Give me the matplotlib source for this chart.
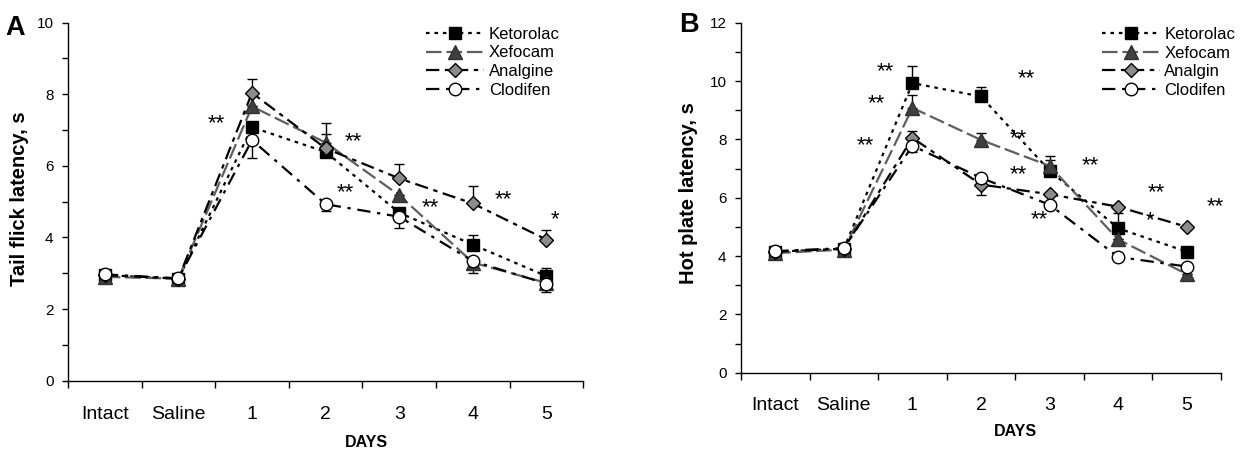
import matplotlib
matplotlib.use("Agg")
import matplotlib.pyplot as plt
import numpy as np

plt.rcParams['font.family'] = ['Liberation Sans', 'DejaVu Sans']

# categories
cats = ['Intact', 'Saline', '1', '2', '3', '4', '5']

# panel A: tail flick latency, s
a_keto = [2.95, 2.85, 7.08, 6.39, 4.69, 3.80, 2.92]
a_xefo = [2.90, 2.85, 7.66, 6.65, 5.18, 3.30, 2.73]
a_anal = [2.95, 2.85, 8.04, 6.49, 5.65, 4.95, 3.94]
a_clod = [2.97, 2.86, 6.72, 4.93, 4.58, 3.34, 2.71]
a_keto_up = [0, 0, 0, 0, 0, 0.27, 0.23]
a_xefo_up = [0, 0, 0, 0.25, 0, 0, 0]
a_anal_up = [0, 0, 0.39, 0.70, 0.40, 0.49, 0.26]
a_clod_dn = [0, 0, 0.51, 0.18, 0.32, 0.33, 0.23]
a_stars = [(1.52, 7.29, '**'), (3.38, 6.80, '**'), (3.27, 5.37, '**'),
           (4.42, 4.95, '**'), (5.42, 5.16, '**'), (6.12, 4.60, '*')]

# panel B: hot plate latency, s
b_keto = [4.15, 4.25, 9.93, 9.47, 6.93, 4.95, 4.15]
b_xefo = [4.10, 4.22, 9.08, 7.98, 7.09, 4.57, 3.38]
b_anal = [4.15, 4.25, 8.05, 6.45, 6.12, 5.69, 5.00]
b_clod = [4.17, 4.27, 7.78, 6.68, 5.76, 3.97, 3.64]
b_keto_up = [0, 0, 0.59, 0.33, 0.35, 0.54, 0]
b_xefo_up = [0, 0, 0.44, 0.25, 0.35, 0, 0]
b_anal_up = [0, 0, 0.24, 0, 0, 0, 0]
b_anal_dn = [0, 0, 0, 0.36, 0, 0, 0]
b_clod_dn = [0, 0, 0.2, 0, 0, 0, 0]
b_stars = [(1.60, 10.47, '**'), (1.48, 9.35, '**'), (1.32, 7.94, '**'),
           (3.66, 10.24, '**'), (3.54, 8.18, '**'), (3.54, 6.93, '**'),
           (3.85, 5.38, '**'), (4.60, 7.25, '**'), (5.55, 6.32, '**'),
           (5.47, 5.37, '*'), (6.42, 5.82, '**')]

x = np.arange(len(cats))
zeros = [0] * len(cats)

# line / marker styles per drug
sty_keto = dict(marker='s', ms=9, mfc='black', mec='black', color='black', ls=(0, (1.6, 2.2)))
sty_xefo = dict(marker='^', ms=9.5, mfc='#404040', mec='#303030', color='#5e5e5e', ls=(0, (7, 2.2)))
sty_anal = dict(marker='D', ms=6.8, mfc='#8c8c8c', mec='black', color='black', ls=(0, (6, 2.5, 2, 2.5)))
sty_clod = dict(marker='o', ms=9, mfc='white', mec='black', color='black', ls=(0, (6, 3, 1.5, 3)))


def panel(ax, series, ymax, stars, legx, legy, pad):
    for vals, lo, hi, name, sty in series:
        ax.errorbar(x, vals, yerr=[lo, hi], fmt='none', ecolor='black',
                    elinewidth=1, capsize=3.6, capthick=1, zorder=1)
    for vals, lo, hi, name, sty in series:
        ax.plot(x, vals, lw=1.6, mew=1, label=name, zorder=2, **sty)
    ax.set_xlim(-0.5, 6.5)
    ax.set_ylim(0, ymax)
    ax.spines['top'].set_visible(False)
    ax.spines['right'].set_visible(False)
    ax.spines['left'].set_linewidth(1)
    ax.spines['bottom'].set_linewidth(1)
    ax.set_yticks(np.arange(0, ymax + 1, 2))
    ax.set_yticks(np.arange(1, ymax, 2), minor=True)
    ax.tick_params(axis='y', which='both', direction='out', length=4, width=1,
                   labelsize=11, pad=6.5)
    # category boundaries get the ticks, centres get the labels
    ax.set_xticks(np.arange(-0.5, 7, 1))
    ax.set_xticklabels([])
    ax.set_xticks(x, minor=True)
    ax.set_xticklabels(cats, minor=True)
    ax.tick_params(axis='x', which='major', direction='out', length=4.8, width=1)
    ax.tick_params(axis='x', which='minor', length=0, labelsize=14, pad=pad)
    for sx, sy, s in stars:
        ax.annotate(s, (sx, sy), xytext=(0, -3), textcoords='offset points',
                    fontsize=16, ha='center', va='center')
    ax.legend(loc='upper left', bbox_to_anchor=(legx, legy), frameon=False,
              fontsize=12, handlelength=3.5, handletextpad=0.25,
              labelspacing=0.22, borderpad=0, borderaxespad=0, numpoints=1)


fig = plt.figure(figsize=(12.44, 4.5), dpi=100)
W, H = 1244.0, 450.0
axA = fig.add_axes([68 / W, 1 - 380.7 / H, 515.3 / W, 358 / H])
axB = fig.add_axes([741 / W, 1 - 372.7 / H, 480 / W, 350 / H])

panel(axA, [(a_keto, zeros, a_keto_up, 'Ketorolac', sty_keto),
            (a_xefo, zeros, a_xefo_up, 'Xefocam', sty_xefo),
            (a_anal, zeros, a_anal_up, 'Analgine', sty_anal),
            (a_clod, a_clod_dn, zeros, 'Clodifen', sty_clod)],
      10, a_stars, 0.695, 0.9885, 18.5)
panel(axB, [(b_keto, zeros, b_keto_up, 'Ketorolac', sty_keto),
            (b_xefo, zeros, b_xefo_up, 'Xefocam', sty_xefo),
            (b_anal, b_anal_dn, b_anal_up, 'Analgin', sty_anal),
            (b_clod, b_clod_dn, zeros, 'Clodifen', sty_clod)],
      12, b_stars, 0.752, 0.988, 17.5)

# axis titles and panel letters
fig.text(20 / W, 1 - 199 / H, 'Tail flick latency, s', rotation=90, fontsize=14.5,
         fontweight='bold', ha='center', va='center')
fig.text(688 / W, 1 - 193.5 / H, 'Hot plate latency, s', rotation=90, fontsize=14.5,
         fontweight='bold', ha='center', va='center')
fig.text(366.7 / W, 1 - 442.8 / H, 'DAYS', fontsize=11.5, fontweight='bold',
         ha='center', va='center')
fig.text(1015 / W, 1 - 431 / H, 'DAYS', fontsize=11.5, fontweight='bold',
         ha='center', va='center')
fig.text(15.5 / W, 1 - 28 / H, 'A', fontsize=19.5, fontweight='bold', ha='center', va='center')
fig.text(689 / W, 1 - 25 / H, 'B', fontsize=19.5, fontweight='bold', ha='center', va='center')

fig.savefig('out.png', dpi=100)
